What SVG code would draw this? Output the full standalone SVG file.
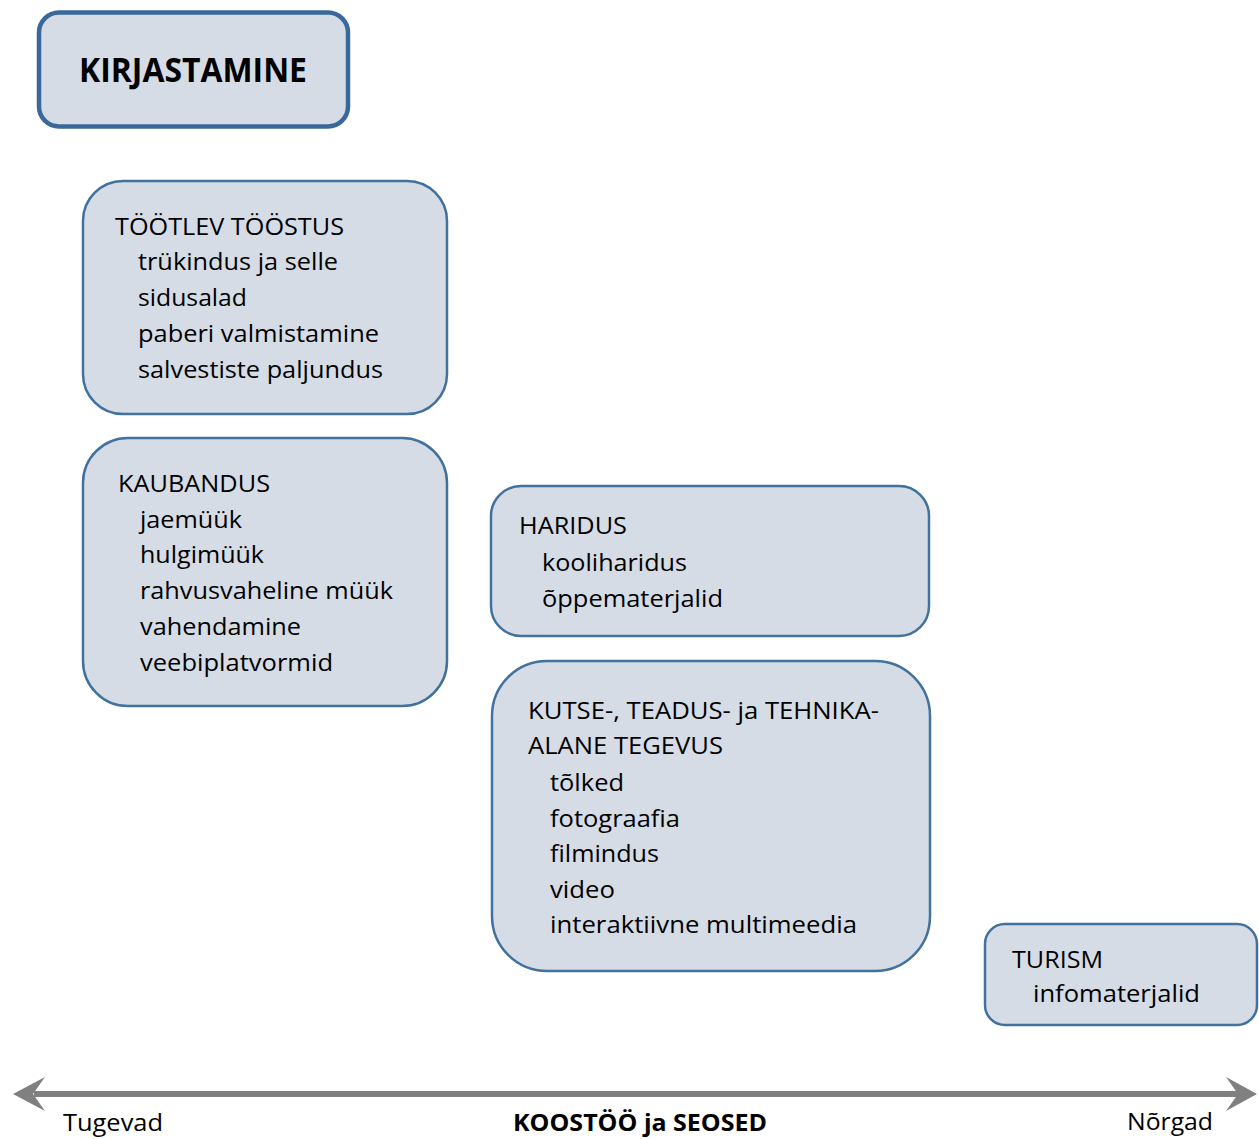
<svg xmlns="http://www.w3.org/2000/svg" width="1259" height="1139" viewBox="0 0 1259 1139">
<style>
.box{fill:#d6dce5;stroke:#41719c;stroke-width:2.5}
.main{fill:#d6dce5;stroke:#3a689a;stroke-width:4.5}
text{font-family:"Open Sans","Noto Sans","DejaVu Sans",sans-serif;fill:#000}
.t{font-size:24px}
.b{font-size:34px;font-weight:bold}
.ax{font-size:24px}
.axb{font-size:24px;font-weight:bold}
</style>
<rect width="1259" height="1139" fill="#fff"/>
<g id="kirjastamine">
<rect class="main" x="39" y="12.5" width="309" height="114" rx="20"/>
<text class="b" x="79" y="82" textLength="228" lengthAdjust="spacingAndGlyphs">KIRJASTAMINE</text>
</g>
<g id="tootlev">
<rect class="box" x="83" y="181" width="364" height="233" rx="40"/>
<text class="t" x="115" y="235" textLength="229" lengthAdjust="spacingAndGlyphs">TÖÖTLEV TÖÖSTUS</text>
<text class="t" x="138" y="270" textLength="200" lengthAdjust="spacingAndGlyphs">trükindus ja selle</text>
<text class="t" x="138" y="306" textLength="109" lengthAdjust="spacingAndGlyphs">sidusalad</text>
<text class="t" x="138" y="342" textLength="241" lengthAdjust="spacingAndGlyphs">paberi valmistamine</text>
<text class="t" x="138" y="378" textLength="245" lengthAdjust="spacingAndGlyphs">salvestiste paljundus</text>
</g>
<g id="kaubandus">
<rect class="box" x="83" y="438" width="364" height="268" rx="45"/>
<text class="t" x="118" y="492" textLength="152" lengthAdjust="spacingAndGlyphs">KAUBANDUS</text>
<text class="t" x="140" y="528" textLength="102" lengthAdjust="spacingAndGlyphs">jaemüük</text>
<text class="t" x="140" y="563" textLength="124" lengthAdjust="spacingAndGlyphs">hulgimüük</text>
<text class="t" x="140" y="599" textLength="253" lengthAdjust="spacingAndGlyphs">rahvusvaheline müük</text>
<text class="t" x="140" y="635" textLength="161" lengthAdjust="spacingAndGlyphs">vahendamine</text>
<text class="t" x="140" y="671" textLength="193" lengthAdjust="spacingAndGlyphs">veebiplatvormid</text>
</g>
<g id="haridus">
<rect class="box" x="491" y="486" width="438" height="150" rx="30"/>
<text class="t" x="519" y="534" textLength="108" lengthAdjust="spacingAndGlyphs">HARIDUS</text>
<text class="t" x="542" y="571" textLength="145" lengthAdjust="spacingAndGlyphs">kooliharidus</text>
<text class="t" x="542" y="607" textLength="181" lengthAdjust="spacingAndGlyphs">õppematerjalid</text>
</g>
<g id="kutse">
<rect class="box" x="492" y="661" width="438" height="310" rx="55"/>
<text class="t" x="528" y="719" textLength="351" lengthAdjust="spacingAndGlyphs">KUTSE-, TEADUS- ja TEHNIKA-</text>
<text class="t" x="528" y="754" textLength="195" lengthAdjust="spacingAndGlyphs">ALANE TEGEVUS</text>
<text class="t" x="550" y="791" textLength="74" lengthAdjust="spacingAndGlyphs">tõlked</text>
<text class="t" x="550" y="827" textLength="130" lengthAdjust="spacingAndGlyphs">fotograafia</text>
<text class="t" x="550" y="862" textLength="109" lengthAdjust="spacingAndGlyphs">filmindus</text>
<text class="t" x="550" y="898" textLength="65" lengthAdjust="spacingAndGlyphs">video</text>
<text class="t" x="550" y="933" textLength="307" lengthAdjust="spacingAndGlyphs">interaktiivne multimeedia</text>
</g>
<g id="turism">
<rect class="box" x="985" y="924" width="272" height="101" rx="20"/>
<text class="t" x="1012" y="968" textLength="91" lengthAdjust="spacingAndGlyphs">TURISM</text>
<text class="t" x="1033" y="1002" textLength="167" lengthAdjust="spacingAndGlyphs">infomaterjalid</text>
</g>
<g id="connectors">
<line x1="34" y1="1094" x2="1238" y2="1094" stroke="#808080" stroke-width="6"/>
<path d="M13,1094 L45,1077 L33,1094 L45,1111 Z" fill="#808080"/>
<path d="M1257,1094 L1226,1077 L1238,1094 L1226,1111 Z" fill="#808080"/>
</g>
<g id="axis-labels">
<text class="ax" x="63" y="1131" textLength="100" lengthAdjust="spacingAndGlyphs">Tugevad</text>
<text class="axb" x="513" y="1131" textLength="254" lengthAdjust="spacingAndGlyphs">KOOSTÖÖ ja SEOSED</text>
<text class="ax" x="1127" y="1130" textLength="86" lengthAdjust="spacingAndGlyphs">Nõrgad</text>
</g>
</svg>
